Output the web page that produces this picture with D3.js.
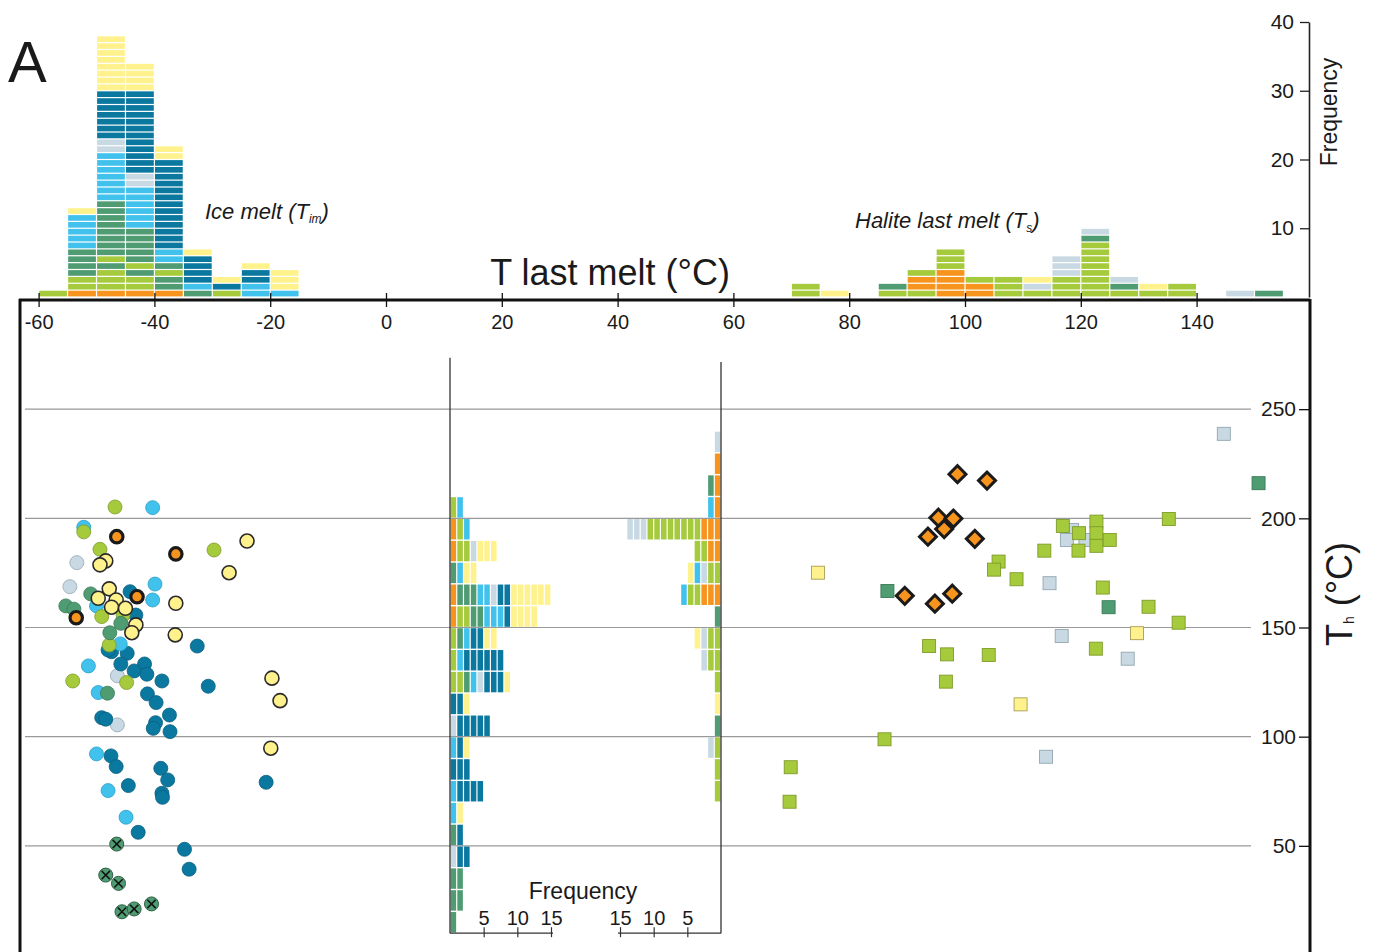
<!DOCTYPE html>
<html><head><meta charset="utf-8">
<script src="https://cdn.jsdelivr.net/npm/d3@7"></script>
<style>
body{margin:0;background:#fff}
svg{display:block}
text{font-family:"Liberation Sans",Arial,Helvetica,sans-serif;fill:#1a1a1a}
</style>
</head><body>
<svg id="chart" width="1375" height="952"></svg>
<script>
// ---------- categories (fluid-inclusion groups) ----------
const classCodes   = ["O","G","D","B","S","N","Y"];
const classColors  = ["#f7941d","#a5ca3b","#4f9c73","#40c2ec","#c8d9e3","#0b78a0","#fff28c"];
const classStrokes = ["#1a1a1a","#7e9c2a","#3a7a58","#2a9fc7","#93a6b1","#09607f","#2a2a2a"];

// ---------- top histograms (stack codes bottom -> top) ----------
const timBinStarts = [-60,-55,-50,-45,-40,-35,-30,-25,-20];
const timStacks = [
  "G",
  "OGGDDDDBBBBBY",
  "OGGGDGDDDDDDDDBBBBBBBSSNNNNNNNYYYYYYYY",
  "OGGDGDDDDDBBBBBBSSNNNNNNNNNNNNYYYY",
  "ODDGDBBNNNNNNNNNNNNNYY",
  "DBNNNNY",
  "GNY",
  "BBNNY",
  "BYYY"
];
const tsBinStarts = [70,75,80,85,90,95,100,105,110,115,120,125,130,135,140,145,150];
const tsStacks = [
  "GG","Y","","GD","GOOG","OOOOGGG","OOG","GGG","GSY","GGGSSS",
  "GGGGGGGGDS","GDS","GY","GG","","S","D"
];

// ---------- Th histograms (stack codes from axis outward) ----------
const thBinStarts = [10,20,30,40,50,60,70,80,90,100,110,120,130,140,150,160,170,180,190,200,210,220,230];
const thIceStacks = [
  "D","DD","DD","SNN","DN","BY","BNNNN","NNN","BNY","SNNNNN","NNY",
  "GGDBSNNNY","GBNNNNNN","GDBNNYY","OGGDDBBBNYYYY","ODDDBBSNNYYYYYY",
  "DBYY","OGGSYYY","OGB","GB","","",""
];
const thHaliteStacks = [
  "","","","","","","G","G","GS","D","Y","G","GGS","GGSY","D",
  "OOOGGB","GGSBY","OOGG","OOOGGGGGGGGSSS","OB","OD","O","S"
];

// ---------- ice-melt scatter (circles) ----------
const iceClass = ["G","B","B","G","O","O","G","Y","G","S","Y","Y","Y","S","B","Y","D","N","O","B",
  "Y","Y","B","Y","D","D","Y","Y","O","G","N","G","D","Y","Y","D","Y","G","B","N",
  "N","N","N","B","N","N","N","N","S","G","Y","N","N","G","Y","B","D","N","N","N",
  "N","N","S","N","N","N","Y","B","N","N","N","N","N","B","N","N","N","B","N","N","N"];
const iceTim = [-46.8,-40.3,-52.2,-52.2,-46.5,-36.3,-29.7,-24.0,-49.4,-53.4,-48.4,-49.4,-27.1,-54.6,-39.9,-47.8,-51.0,-44.2,-43.0,-40.3,
  -49.7,-46.6,-50.0,-36.3,-55.3,-53.9,-47.4,-45.0,-53.5,-49.1,-43.2,-45.4,-45.8,-43.2,-43.9,-47.7,-36.4,-47.8,-45.9,-32.6,
  -47.4,-48.0,-44.7,-51.4,-45.8,-41.7,-43.5,-41.3,-46.4,-54.1,-19.7,-38.7,-30.7,-44.8,-18.3,-49.7,-48.1,-41.2,-39.7,-37.4,
  -49.1,-48.4,-46.4,-39.8,-40.2,-37.3,-19.9,-50.0,-47.5,-46.6,-38.9,-37.7,-20.7,-48.0,-44.5,-38.7,-38.6,-44.9,-42.8,-34.8,-34.0];
const iceTh = [205.2,204.9,195.9,193.8,191.6,183.7,185.5,189.6,185.8,179.7,180.5,178.7,175.1,168.7,169.9,167.7,165.4,166.4,164.1,162.6,
  163.4,162.6,159.9,161.1,159.9,158.4,159.3,158.8,154.5,155.0,155.7,155.7,151.9,151.2,147.6,147.6,146.6,142.0,142.5,141.5,
  138.9,139.7,138.2,132.4,133.3,133.3,130.1,128.6,127.9,125.5,126.8,125.5,123.1,124.8,116.5,120.2,119.9,119.6,115.6,109.9,
  108.7,108.0,105.4,106.4,103.8,102.3,94.7,92.1,91.2,86.3,85.5,80.2,79.1,75.3,77.6,74.1,72.2,63.1,56.2,48.4,39.3];
// crossed circles
const crossTim = [-46.5,-48.4,-46.2,-45.6,-43.5,-40.5];
const crossTh  = [50.8,36.6,32.8,19.8,21.1,23.4];

// ---------- halite scatter (squares + diamonds) ----------
const sqClass = ["S","D","G","Y","D","G","G","G","S","G","G","S","S","G","S","G","G","G","G","G",
  "G","D","G","G","Y","S","G","S","G","G","G","G","Y","G","S","G","G"];
const sqTs = [144.7,150.7,135.2,74.6,86.6,105.8,105.0,108.9,114.6,113.7,116.9,118.5,117.6,119.7,120.8,119.6,122.7,122.7,122.7,125.0,
  123.8,124.8,131.7,136.9,129.7,116.7,122.6,128.1,93.8,96.9,104.1,96.7,109.6,86.1,114.0,69.9,69.7];
const sqTh = [238.7,216.1,199.7,175.1,166.7,180.2,176.5,172.1,170.3,185.2,196.5,194.7,190.1,193.2,190.1,185.2,198.5,193.2,187.4,190.1,
  168.3,159.3,159.5,152.2,147.4,146.1,140.3,135.7,141.5,137.7,137.4,125.2,114.8,98.8,90.8,86.0,70.2];
const dmTs = [98.7,103.8,95.4,98.0,96.4,93.6,101.7,89.6,94.8,97.8];
const dmTh = [220.2,217.3,200.3,199.9,195.1,191.6,190.6,164.5,160.9,165.5];

// ---------- ticks ----------
const xTicks = [-60,-40,-20,0,20,40,60,80,100,120,140];
const thTicks = [50,100,150,200,250];
const freqTicks = [10,20,30,40];
const cntTicks = [5,10,15];

// ================= drawing =================
const svg = d3.select("#chart");
const col = c => classColors[classCodes.indexOf(c)];
const stk = c => classStrokes[classCodes.indexOf(c)];

const xT = d3.scaleLinear().domain([-60,160]).range([38.6, 38.6 + 220*5.79]);
const yF = d3.scaleLinear().domain([0,40]).range([297,22]);
const yTh = d3.scaleLinear().domain([0,300]).range([955,300]);
const cntL = d3.scaleLinear().domain([0,15]).range([450,551]);
const cntR = d3.scaleLinear().domain([0,15]).range([721,620]);

// gridlines
svg.append("g").selectAll("line").data(thTicks).join("line")
  .attr("x1",25).attr("x2",1251).attr("y1",d=>yTh(d)).attr("y2",d=>yTh(d))
  .attr("stroke","#9a9a9a").attr("stroke-width",1.2);

// top histograms
function topHist(starts, stacks){
  const g = svg.append("g");
  starts.forEach((s,i)=>{
    stacks[i].split("").forEach((c,k)=>{
      g.append("rect")
        .attr("x", xT(s)+0.6).attr("width", xT(s+5)-xT(s)-1.2)
        .attr("y", yF(k+1)+0.6).attr("height", yF(k)-yF(k+1)-1.2)
        .attr("fill", col(c));
    });
  });
}
topHist(timBinStarts, timStacks);
topHist(tsBinStarts, tsStacks);

// middle histograms
const midG = svg.append("g");
thBinStarts.forEach((b,i)=>{
  thIceStacks[i].split("").forEach((c,k)=>{
    midG.append("rect").attr("x",cntL(k)+0.6).attr("width",cntL(k+1)-cntL(k)-1.2)
      .attr("y",yTh(b+10)+0.7).attr("height",yTh(b)-yTh(b+10)-1.4).attr("fill",col(c));
  });
  thHaliteStacks[i].split("").forEach((c,k)=>{
    midG.append("rect").attr("x",cntR(k+1)+0.6).attr("width",cntR(k)-cntR(k+1)-1.2)
      .attr("y",yTh(b+10)+0.7).attr("height",yTh(b)-yTh(b+10)-1.4).attr("fill",col(c));
  });
});
// middle histogram axes
midG.append("line").attr("x1",450).attr("x2",450).attr("y1",yTh(273.5)).attr("y2",yTh(10)).attr("stroke","#333").attr("stroke-width",1.3);
midG.append("line").attr("x1",721).attr("x2",721).attr("y1",yTh(271.6)).attr("y2",yTh(10)).attr("stroke","#333").attr("stroke-width",1.3);
function cntAxis(scale){
  const g = svg.append("g").attr("transform",`translate(0,${yTh(10)})`)
    .call(d3.axisTop(scale).tickValues(cntTicks).tickSize(0).tickPadding(8).tickFormat(d=>String(d)));
  g.select(".domain").remove();
  g.append("line").attr("x1",scale(0)).attr("x2",scale(15)+2*Math.sign(scale(15)-scale(0)))
    .attr("stroke","#333").attr("stroke-width",1.3);
  g.selectAll(".tick").append("line").attr("y1",-6).attr("y2",4).attr("stroke","#333").attr("stroke-width",1.2);
  g.selectAll("text").attr("font-size",20).attr("fill","#1a1a1a").attr("font-family",'"Liberation Sans",Arial,sans-serif');
}
cntAxis(cntL); cntAxis(cntR);
svg.append("text").attr("x",583).attr("y",899).attr("text-anchor","middle").attr("font-size",23).text("Frequency");

// ice melt scatter
const order = ["S","N","B","G","D","Y","O"];
const iceIdx = d3.range(iceClass.length).sort((a,b)=>order.indexOf(iceClass[a])-order.indexOf(iceClass[b]));
svg.append("g").selectAll("circle").data(iceIdx).join("circle")
  .attr("cx",i=>xT(iceTim[i])).attr("cy",i=>yTh(iceTh[i]))
  .attr("r",i=>iceClass[i]==="O"?6.2:7)
  .attr("fill",i=>col(iceClass[i]))
  .attr("stroke",i=>stk(iceClass[i]))
  .attr("stroke-width",i=>iceClass[i]==="O"?3.2:(iceClass[i]==="Y"?1.6:0.8));
const crossG = svg.append("g").selectAll("g").data(d3.range(crossTim.length)).join("g")
  .attr("transform",i=>`translate(${xT(crossTim[i])},${yTh(crossTh[i])})`);
crossG.append("circle").attr("r",7).attr("fill",col("D")).attr("stroke","#2f5f45").attr("stroke-width",1);
crossG.append("path").attr("d","M-4.2,-4.2L4.2,4.2M-4.2,4.2L4.2,-4.2").attr("stroke","#111").attr("stroke-width",1.5);

// halite scatter
const sqOrder = ["S","Y","D","G"];
const sqIdx = d3.range(sqClass.length).sort((a,b)=>sqOrder.indexOf(sqClass[a])-sqOrder.indexOf(sqClass[b]));
svg.append("g").selectAll("rect").data(sqIdx).join("rect")
  .attr("x",i=>xT(sqTs[i])-6.5).attr("y",i=>yTh(sqTh[i])-6.5).attr("width",13).attr("height",13)
  .attr("fill",i=>col(sqClass[i])).attr("stroke",i=>sqClass[i]==="Y"?"#a89d55":stk(sqClass[i])).attr("stroke-width",0.9);
svg.append("g").selectAll("rect").data(d3.range(dmTs.length)).join("rect")
  .attr("x",-6).attr("y",-6).attr("width",12).attr("height",12)
  .attr("transform",i=>`translate(${xT(dmTs[i])},${yTh(dmTh[i])}) rotate(45)`)
  .attr("fill",col("O")).attr("stroke","#1a1a1a").attr("stroke-width",3);

// frame
const fr = svg.append("g").attr("stroke","#111").attr("stroke-width",3).attr("fill","none");
fr.append("line").attr("x1",19).attr("x2",1310).attr("y1",300).attr("y2",300);
fr.append("line").attr("x1",20).attr("x2",20).attr("y1",299).attr("y2",952);
fr.append("line").attr("x1",1310).attr("x2",1310).attr("y1",299).attr("y2",952);

// top x axis (T last melt)
const xa = svg.append("g").attr("transform","translate(0,300)")
  .call(d3.axisBottom(xT).tickValues(xTicks).tickSize(7).tickPadding(8).tickFormat(d=>String(d)));
xa.select(".domain").remove();
xa.selectAll(".tick line").attr("y1",-7).attr("y2",7).attr("stroke","#111").attr("stroke-width",1.3);
xa.selectAll("text").attr("font-size",20).attr("fill","#1a1a1a").attr("font-family",'"Liberation Sans",Arial,sans-serif');

// Th axis (right)
const ya = svg.append("g").attr("transform","translate(1310,0)")
  .call(d3.axisLeft(yTh).tickValues(thTicks).tickSize(11).tickPadding(3));
ya.select(".domain").remove();
ya.selectAll(".tick line").attr("stroke","#111").attr("stroke-width",1.3);
ya.selectAll("text").attr("font-size",21).attr("fill","#1a1a1a").attr("font-family",'"Liberation Sans",Arial,sans-serif');

// Frequency axis (top right)
const fa = svg.append("g").attr("transform","translate(1309,0)")
  .call(d3.axisLeft(yF).tickValues(freqTicks).tickSize(9).tickSizeOuter(0).tickPadding(6));
fa.select(".domain").attr("stroke","#222").attr("stroke-width",1.6);
fa.selectAll(".tick line").attr("stroke","#222").attr("stroke-width",1.3);
fa.selectAll("text").attr("font-size",21).attr("fill","#1a1a1a").attr("font-family",'"Liberation Sans",Arial,sans-serif');

// texts
svg.append("text").attr("x",8).attr("y",82).attr("font-size",58).text("A");
svg.append("text").attr("x",610).attr("y",285).attr("text-anchor","middle").attr("font-size",36).text("T last melt (°C)");
svg.append("text").attr("transform","translate(1337,112) rotate(-90)").attr("text-anchor","middle").attr("font-size",23).text("Frequency");
const th = svg.append("text").attr("transform","translate(1352,594) rotate(-90)").attr("text-anchor","middle").attr("font-size",36);
th.append("tspan").text("T");
th.append("tspan").attr("font-size",14).attr("dy",2).text("h");
th.append("tspan").attr("dy",-2).text(" (°C)");
const im = svg.append("text").attr("x",205).attr("y",219).attr("font-size",22).attr("font-style","italic");
im.append("tspan").text("Ice melt (T");
im.append("tspan").attr("font-size",12).attr("dy",4).text("im");
im.append("tspan").attr("dy",-4).text(")");
const hs = svg.append("text").attr("x",855).attr("y",228).attr("font-size",22).attr("font-style","italic");
hs.append("tspan").text("Halite last melt (T");
hs.append("tspan").attr("font-size",12).attr("dy",4).text("s");
hs.append("tspan").attr("dy",-4).text(")");
</script>
</body></html>
